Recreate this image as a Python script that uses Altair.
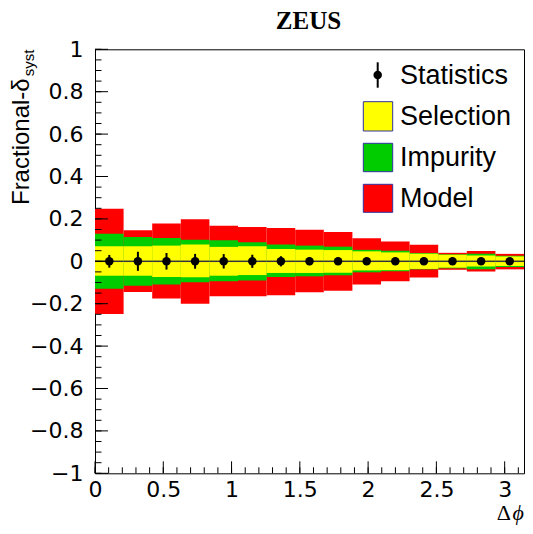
import altair as alt
import numpy as np
import pandas as pd

# ---- data ----
bin_lo = [0.0, 0.2094, 0.4189, 0.6283, 0.8378, 1.0472, 1.2566, 1.4661, 1.6755, 1.8850, 2.0944, 2.3038, 2.5133, 2.7227, 2.9322]
bin_hi = [0.2094, 0.4189, 0.6283, 0.8378, 1.0472, 1.2566, 1.4661, 1.6755, 1.8850, 2.0944, 2.3038, 2.5133, 2.7227, 2.9322, 3.1416]
bin_center = [0.1047, 0.3142, 0.5236, 0.7330, 0.9425, 1.1519, 1.3614, 1.5708, 1.7802, 1.9897, 2.1991, 2.4086, 2.6180, 2.8274, 3.0369]

sel_up = [0.071, 0.071, 0.074, 0.079, 0.068, 0.071, 0.058, 0.055, 0.053, 0.047, 0.042, 0.036, 0.031, 0.027, 0.023]
sel_dn = [-0.068, -0.068, -0.074, -0.075, -0.068, -0.065, -0.055, -0.055, -0.054, -0.043, -0.042, -0.036, -0.030, -0.024, -0.022]
imp_up = [0.130, 0.115, 0.110, 0.102, 0.099, 0.090, 0.079, 0.074, 0.069, 0.054, 0.050, 0.039, 0.033, 0.036, 0.026]
imp_dn = [-0.130, -0.115, -0.110, -0.099, -0.094, -0.091, -0.074, -0.071, -0.066, -0.052, -0.047, -0.038, -0.033, -0.038, -0.027]
mod_up = [0.248, 0.146, 0.178, 0.198, 0.168, 0.162, 0.157, 0.149, 0.138, 0.109, 0.093, 0.078, 0.040, 0.049, 0.035]
mod_dn = [-0.248, -0.145, -0.176, -0.200, -0.165, -0.165, -0.160, -0.146, -0.139, -0.110, -0.094, -0.077, -0.040, -0.048, -0.038]

stat_val = [0.0] * 15
stat_err = [0.030, 0.045, 0.039, 0.035, 0.034, 0.031, 0.024, 0.018, 0.016, 0.014, 0.013, 0.012, 0.011, 0.010, 0.010]

legend_names = ["Statistics", "Selection", "Impurity", "Model"]
band_colors = {"Selection": "#ffff00", "Impurity": "#00cc00", "Model": "#ff0000"}

x_tick_labels = [0, 0.5, 1, 1.5, 2, 2.5, 3]
y_tick_labels = [1, 0.8, 0.6, 0.4, 0.2, 0, -0.2, -0.4, -0.6, -0.8, -1]

# plot area: page x 95..524, page y 49.3..473.3 (svg fits the 533px window: no rescale)
W, H = 429, 424
FONT = "Liberation Sans"
LABEL_FONT = "DejaVu Sans"
SERIF = "Liberation Serif"

xscale = alt.Scale(domain=[0, np.pi], nice=False, zero=False)
yscale = alt.Scale(domain=[-1, 1], nice=False, zero=False)
xaxis = alt.Axis(values=x_tick_labels, format="~g", title=None, grid=False, domain=False,
                 ticks=False, labelFont=LABEL_FONT, labelFontSize=22, labelColor="black",
                 labelPadding=6, labelFlush=False)
yaxis = alt.Axis(values=y_tick_labels, format="~g", title=None, grid=False, domain=False,
                 ticks=False, labelFont=LABEL_FONT, labelFontSize=22, labelColor="black",
                 labelPadding=12, labelFlush=False)

df = pd.DataFrame({
    "lo": bin_lo, "hi": bin_hi, "c": bin_center,
    "sel_up": sel_up, "sel_dn": sel_dn,
    "imp_up": imp_up, "imp_dn": imp_dn,
    "mod_up": mod_up, "mod_dn": mod_dn,
    "v": stat_val,
})
df["e_lo"] = df["v"] - pd.Series(stat_err)
df["e_hi"] = df["v"] + pd.Series(stat_err)

base = alt.Chart(df)


def band(up, dn, color):
    return base.mark_rect(color=color).encode(
        x=alt.X("lo:Q", scale=xscale, axis=xaxis),
        x2="hi:Q",
        y=alt.Y(f"{dn}:Q", scale=yscale, axis=yaxis),
        y2=f"{up}:Q",
    )


model = band("mod_up", "mod_dn", band_colors["Model"])
impur = band("imp_up", "imp_dn", band_colors["Impurity"])
select = band("sel_up", "sel_dn", band_colors["Selection"])

hline = base.mark_rule(color="#333340", strokeWidth=1.5).encode(
    x=alt.X("lo:Q", scale=xscale, axis=xaxis), x2="hi:Q",
    y=alt.Y("v:Q", scale=yscale, axis=yaxis))
ebar = base.mark_rule(color="black", strokeWidth=2).encode(
    x=alt.X("c:Q", scale=xscale, axis=xaxis),
    y=alt.Y("e_lo:Q", scale=yscale, axis=yaxis), y2="e_hi:Q")
dots = base.mark_circle(color="black", opacity=1, size=72).encode(
    x=alt.X("c:Q", scale=xscale, axis=xaxis),
    y=alt.Y("v:Q", scale=yscale, axis=yaxis))

# ---- inward ROOT-style ticks ----
x_major = pd.DataFrame({"t": x_tick_labels})
x_minor = pd.DataFrame({"t": np.round(np.arange(0, 3.15, 0.1), 2)})
y_major = pd.DataFrame({"t": y_tick_labels})
y_minor = pd.DataFrame({"t": np.round(np.arange(-1, 1.001, 0.05), 3)})

xt_major = alt.Chart(x_major).mark_rule(color="black", strokeWidth=1).encode(
    x=alt.X("t:Q", scale=xscale, axis=xaxis), y=alt.value(H), y2=alt.value(H - 12))
xt_minor = alt.Chart(x_minor).mark_rule(color="black", strokeWidth=1).encode(
    x=alt.X("t:Q", scale=xscale, axis=xaxis), y=alt.value(H), y2=alt.value(H - 6))
yt_major = alt.Chart(y_major).mark_rule(color="black", strokeWidth=1).encode(
    y=alt.Y("t:Q", scale=yscale, axis=yaxis), x=alt.value(0), x2=alt.value(13))
yt_minor = alt.Chart(y_minor).mark_rule(color="black", strokeWidth=1).encode(
    y=alt.Y("t:Q", scale=yscale, axis=yaxis), x=alt.value(0), x2=alt.value(6.5))

one = alt.Chart(pd.DataFrame({"k": [0]}))

# ---- titles ----
title = one.mark_text(text="ZEUS", font=SERIF, fontWeight="bold", fontSize=25,
                      align="center", baseline="alphabetic", color="black").encode(
    x=alt.value(213.5), y=alt.value(-20))
ytitle = one.mark_text(text="Fractional-δ", font=FONT, fontSize=24, angle=270,
                       align="right", baseline="alphabetic", color="black").encode(
    x=alt.value(-66), y=alt.value(29))
ysub = one.mark_text(text="syst", font=FONT, fontSize=15, angle=270,
                     align="left", baseline="alphabetic", color="black").encode(
    x=alt.value(-61), y=alt.value(27))
xt_delta = one.mark_text(text="Δ", font=SERIF, fontSize=22,
                         align="right", baseline="alphabetic", color="black").encode(
    x=alt.value(W - 13), y=alt.value(471))
xt_phi = one.mark_text(text="ϕ", font=SERIF + ", DejaVu Serif", fontSize=22, fontStyle="italic",
                       align="right", baseline="alphabetic", color="black").encode(
    x=alt.value(W), y=alt.value(471))

# ---- legend ----
leg_layers = []
leg_layers.append(one.mark_rule(color="black", strokeWidth=2).encode(
    x=alt.value(282.7), y=alt.value(13), y2=alt.value(38.4)))
leg_layers.append(one.mark_circle(color="black", opacity=1, size=72).encode(
    x=alt.value(282.7), y=alt.value(25.7)))
box_y = [(52.4, 81.7), (94.0, 122.4), (135.0, 163.0)]
for name, (y0, y1) in zip(legend_names[1:], box_y):
    leg_layers.append(one.mark_rect(fill=band_colors[name], stroke="#3030a0", strokeWidth=1).encode(
        x=alt.value(268.3), x2=alt.value(297.7), y=alt.value(y0), y2=alt.value(y1)))
text_base = [35.0, 75.7, 116.4, 157.4]
for name, yb in zip(legend_names, text_base):
    leg_layers.append(one.mark_text(text=name, font=FONT, fontSize=27, align="left",
                                    baseline="alphabetic", color="black").encode(
        x=alt.value(305), y=alt.value(yb)))

chart = alt.layer(
    model, impur, select, hline, ebar, dots,
    xt_major, xt_minor, yt_major, yt_minor,
    title, ytitle, ysub, xt_delta, xt_phi, *leg_layers
).properties(
    width=W, height=H,
    padding={"left": 87, "top": 41.3, "right": 1, "bottom": 51.7},
    autosize=alt.AutoSizeParams(type="none"),
    background="white",
).configure_view(stroke="black", strokeWidth=1)

chart.save("out.html", embed_options={"renderer": "svg", "actions": False})
